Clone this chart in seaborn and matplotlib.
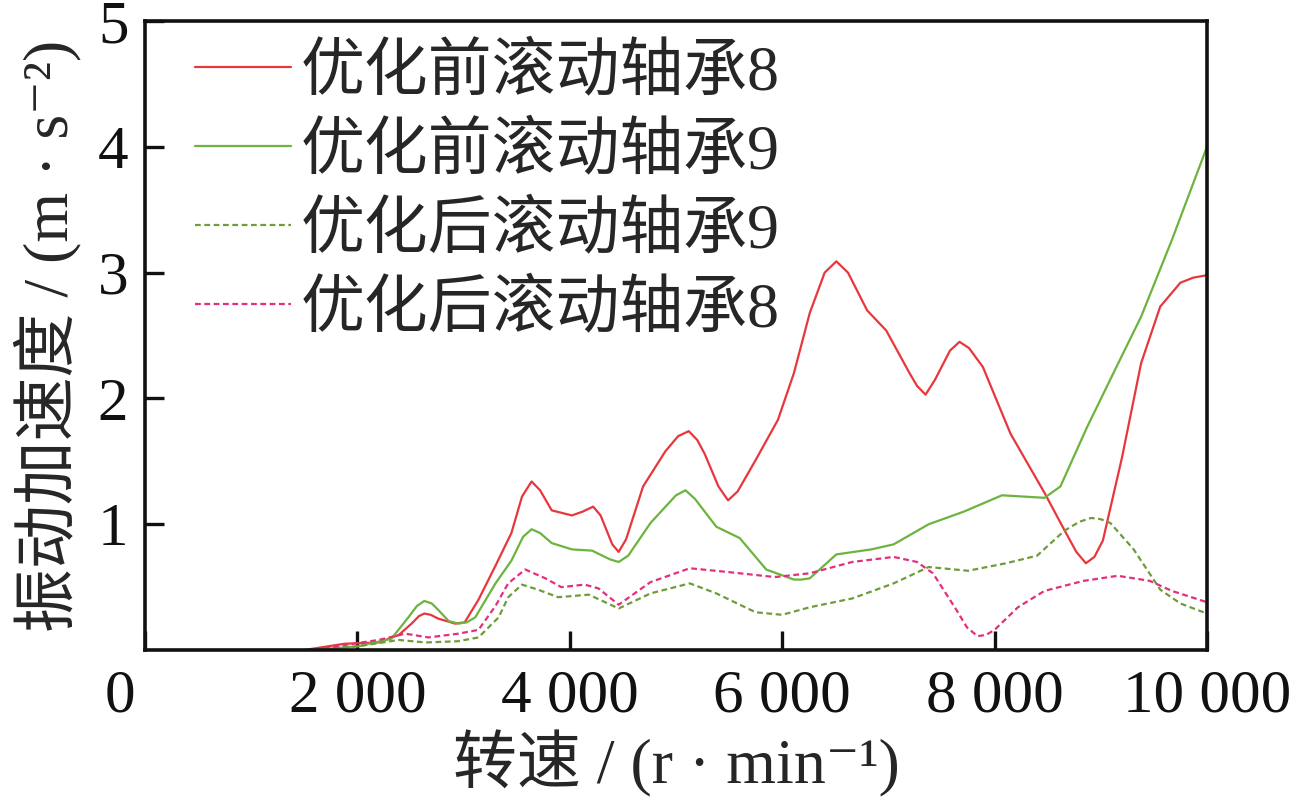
import matplotlib
matplotlib.use("Agg")
import matplotlib.pyplot as plt
import matplotlib.transforms as mtransforms
import seaborn as sns
import pandas as pd

# 优化前滚动轴承8 (红色实线)
red_x = [1500, 1880, 2200, 2390, 2510, 2580, 2630, 2690, 2760, 2920, 3010, 3140, 3300,
         3450, 3550, 3640, 3720, 3830, 4020, 4120, 4220, 4290, 4400, 4460, 4530, 4690,
         4900, 5020, 5120, 5200, 5270, 5400, 5490, 5580, 5750, 5960, 6110, 6260, 6400,
         6510, 6620, 6800, 6980, 7200, 7270, 7350, 7440, 7580, 7670, 7760, 7890, 8150,
         8470, 8660, 8770, 8860, 8940, 9020, 9200, 9380, 9560, 9750, 9870, 10000]
red_y = [0.0, 0.05, 0.06, 0.12, 0.21, 0.27, 0.29, 0.28, 0.25, 0.21, 0.22, 0.40, 0.67,
         0.93, 1.22, 1.34, 1.27, 1.11, 1.07, 1.10, 1.14, 1.07, 0.84, 0.78, 0.88, 1.30,
         1.58, 1.70, 1.74, 1.67, 1.56, 1.30, 1.19, 1.26, 1.51, 1.83, 2.20, 2.68, 3.00,
         3.09, 3.00, 2.70, 2.54, 2.20, 2.10, 2.03, 2.15, 2.38, 2.45, 2.40, 2.25, 1.72,
         1.25, 0.95, 0.78, 0.69, 0.74, 0.87, 1.53, 2.28, 2.73, 2.92, 2.96, 2.98]

# 优化前滚动轴承9 (绿色实线)
green_x = [1570, 2010, 2320, 2480, 2560, 2630, 2700, 2760, 2860, 2950, 3030, 3110, 3300,
           3450, 3560, 3640, 3720, 3830, 4020, 4210, 4380, 4460, 4550, 4760, 5000, 5090,
           5180, 5380, 5600, 5850, 6110, 6180, 6260, 6510, 6840, 7050, 7380, 7710, 8070,
           8470, 8620, 8870, 9130, 9380, 9670, 10000]
green_y = [0.0, 0.03, 0.09, 0.26, 0.35, 0.39, 0.37, 0.32, 0.23, 0.21, 0.22, 0.26, 0.53,
           0.71, 0.90, 0.96, 0.93, 0.85, 0.80, 0.79, 0.72, 0.70, 0.75, 1.01, 1.23, 1.27,
           1.20, 0.98, 0.89, 0.64, 0.56, 0.56, 0.57, 0.76, 0.80, 0.84, 1.00, 1.10, 1.23,
           1.21, 1.30, 1.77, 2.22, 2.65, 3.26, 4.0]

# 优化后滚动轴承9 (绿色虚线)
green2_x = [1600, 2010, 2390, 2640, 2950, 3140, 3330, 3420, 3550, 3700, 3890, 4180, 4460,
            4760, 5130, 5380, 5750, 6000, 6260, 6660, 7050, 7380, 7750, 8110, 8400, 8660,
            8800, 8910, 9000, 9090, 9310, 9560, 9750, 10000]
green2_y = [0.0, 0.03, 0.08, 0.06, 0.07, 0.10, 0.26, 0.42, 0.52, 0.48, 0.42, 0.44, 0.33,
            0.45, 0.53, 0.45, 0.30, 0.28, 0.34, 0.41, 0.53, 0.66, 0.63, 0.69, 0.75, 0.95,
            1.02, 1.05, 1.04, 1.01, 0.80, 0.48, 0.37, 0.29]

# 优化后滚动轴承8 (粉色虚线)
pink_x = [1600, 1880, 2200, 2450, 2670, 2950, 3140, 3300, 3420, 3580, 3770, 3920, 4140,
          4270, 4460, 4760, 5130, 5490, 5930, 6260, 6660, 7050, 7270, 7420, 7640, 7740,
          7840, 7920, 8000, 8220, 8470, 8840, 9160, 9460, 9670, 10000]
pink_y = [0.0, 0.04, 0.08, 0.13, 0.10, 0.13, 0.16, 0.35, 0.53, 0.64, 0.57, 0.50, 0.52,
          0.49, 0.36, 0.54, 0.65, 0.62, 0.58, 0.61, 0.70, 0.74, 0.70, 0.61, 0.32, 0.18,
          0.11, 0.12, 0.16, 0.34, 0.47, 0.55, 0.59, 0.55, 0.47, 0.38]

labels = ["优化前滚动轴承8", "优化前滚动轴承9", "优化后滚动轴承9", "优化后滚动轴承8"]
x_ticks = [0, 2000, 4000, 6000, 8000, 10000]
x_tick_labels = ["0", "2 000", "4 000", "6 000", "8 000", "10 000"]
y_ticks = [1, 2, 3, 4, 5]

sns.set_style("ticks")
plt.rcParams['font.family'] = ['Liberation Serif', 'Noto Sans CJK SC', 'DejaVu Sans']

fig = plt.figure(figsize=(12.95, 8.11), dpi=100)
ax = fig.add_axes([0.112, 0.1985, 0.82, 0.7755])

series = [
    (red_x, red_y, "#e8373c", "-"),
    (green_x, green_y, "#6cb43f", "-"),
    (green2_x, green2_y, "#6e9c3a", (0, (2.6, 1.6))),
    (pink_x, pink_y, "#e2307c", (0, (2.6, 1.6))),
]
for (xs, ys, c, ls), lab in zip(series, labels):
    df = pd.DataFrame({"x": xs, "y": ys})
    sns.lineplot(data=df, x="x", y="y", ax=ax, color=c, linestyle=ls, linewidth=1.6,
                 estimator=None, sort=False, label=lab)

ax.set_xlim(0, 10000)
ax.set_ylim(0, 5)
ax.set_xticks(x_ticks)
ax.set_xticklabels(x_tick_labels)
ax.set_yticks(y_ticks)
ax.tick_params(direction="in", length=14, width=2.4, labelsize=44, colors="#111111")
ax.tick_params(axis="x", pad=14)
ax.tick_params(axis="y", pad=12)
for s in ax.spines.values():
    s.set_linewidth(2.6)
    s.set_color("#111111")

# 原图中 "0" 略向左偏
lbl0 = ax.get_xticklabels()[0]
lbl0.set_transform(lbl0.get_transform() +
                   mtransforms.ScaledTranslation(-0.25, 0, fig.dpi_scale_trans))

ax.set_xlabel("转速 / (r · min⁻¹)", fontsize=46, labelpad=4)
ax.set_ylabel("振动加速度 / (m · s⁻²)", fontsize=46, labelpad=12)

ax.legend(loc="upper left", bbox_to_anchor=(0.047, 0.965), frameon=False, fontsize=46,
          handlelength=1.5, handletextpad=0.15, labelspacing=0.3, borderpad=0,
          borderaxespad=0)

fig.savefig("out.png", dpi=100)
